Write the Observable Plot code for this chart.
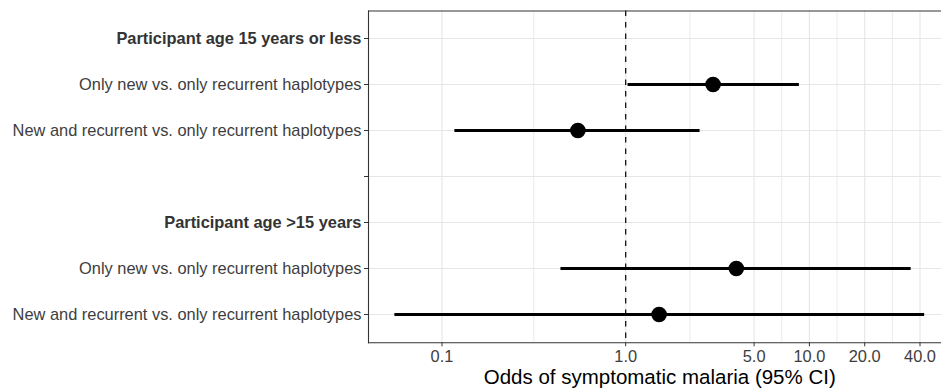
<!DOCTYPE html>
<html>
<head>
<meta charset="utf-8">
<script src="https://cdn.jsdelivr.net/npm/d3@7"></script>
<script src="https://cdn.jsdelivr.net/npm/@observablehq/plot@0.6"></script>
<style>
  html, body { margin: 0; padding: 0; background: #fff; overflow: hidden; }
</style>
</head>
<body>
<div id="chart"></div>
<script>
// Rows (top to bottom)
const rowIds = ["h1", "a1", "b1", "gap", "h2", "a2", "b2"];
const rowLabels = [
  "Participant age 15 years or less",
  "Only new vs. only recurrent haplotypes",
  "New and recurrent vs. only recurrent haplotypes",
  "",
  "Participant age >15 years",
  "Only new vs. only recurrent haplotypes",
  "New and recurrent vs. only recurrent haplotypes"
];
const boldRows = ["h1", "h2"];

// Estimates (odds ratio with 95% CI)
const estRows = ["a1", "b1", "a2", "b2"];
const oddsRatio = [2.99, 0.549, 4.0, 1.52];
const ciLow = [1.03, 0.1175, 0.444, 0.0554];
const ciHigh = [8.82, 2.54, 35.8, 42.4];

// Axis breaks
const majorBreaks = [0.1, 1, 5, 10, 20, 40];
const minorBreaks = [0.316, 2.236, 7.07, 14.14, 28.28];
const tickLabels = ["0.1", "1.0", "5.0", "10.0", "20.0", "40.0"];
const xTitle = "Odds of symptomatic malaria (95% CI)";
const refLine = [1];

const data = estRows.map((id, i) => ({id, or: oddsRatio[i], lo: ciLow[i], hi: ciHigh[i]}));
const labelOf = new Map(rowIds.map((id, i) => [id, rowLabels[i]]));
const ticksData = majorBreaks.map((b, i) => ({b, label: tickLabels[i]}));

const FONT = 16.4;
const TXT = "#3d3d3d";

const chart = Plot.plot({
  width: 941,
  height: 390,
  marginLeft: 368,
  marginRight: 0,
  marginTop: 10.5,
  marginBottom: 47.7,
  style: {fontFamily: "'Liberation Sans', Arial, sans-serif", background: "#fff", overflow: "visible"},
  x: {type: "log", domain: [0.0398, 52.37], axis: null},
  y: {type: "point", domain: rowIds, padding: 0.6, axis: null},
  marks: [
    Plot.ruleX(minorBreaks, {stroke: "#ebebeb", strokeWidth: 1}),
    Plot.ruleX(majorBreaks, {stroke: "#e6e6e6", strokeWidth: 1.1}),
    Plot.ruleY(rowIds, {stroke: "#e6e6e6", strokeWidth: 1.1}),
    Plot.ruleX(refLine, {stroke: "#000", strokeWidth: 1.2, strokeDasharray: "5.5,6"}),
    Plot.ruleY(data, {y: "id", x1: "lo", x2: "hi", stroke: "#000", strokeWidth: 2.8}),
    Plot.dot(data, {x: "or", y: "id", r: 7.8, fill: "#000", stroke: null}),
    Plot.frame({anchor: "top", stroke: "#333", strokeWidth: 1.1}),
    Plot.frame({anchor: "left", stroke: "#333", strokeWidth: 1.1}),
    Plot.frame({anchor: "bottom", stroke: "#333", strokeWidth: 1.1}),
    Plot.axisX({ticks: majorBreaks, tickFormat: () => "", tickSize: 4, stroke: "#333", label: null}),
    Plot.text(ticksData, {x: "b", text: "label", frameAnchor: "bottom", lineAnchor: "top", dy: 8,
      fontSize: FONT, fill: TXT}),
    Plot.axisY({ticks: rowIds.filter(d => !boldRows.includes(d)), tickFormat: d => labelOf.get(d),
      tickSize: 4, tickPadding: 3, fontSize: FONT, stroke: "#333", fill: TXT, label: null}),
    Plot.axisY({ticks: boldRows, tickFormat: d => labelOf.get(d), fontWeight: "bold",
      tickSize: 4, tickPadding: 3, fontSize: FONT, stroke: "#333", fill: "#333", label: null}),
    Plot.text([xTitle], {text: d => d, frameAnchor: "bottom", lineAnchor: "middle", dx: 4.75, dy: 35,
      fontSize: 20.5, fill: "#000"})
  ]
});
document.getElementById("chart").appendChild(chart);
</script>
</body>
</html>
